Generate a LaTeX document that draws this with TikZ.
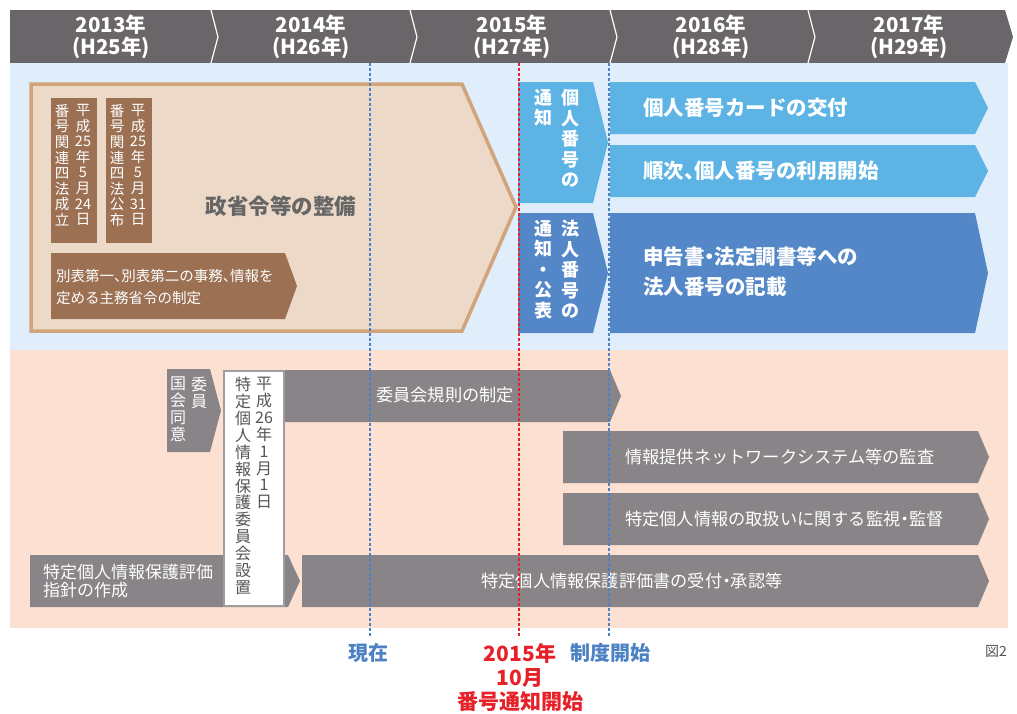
\documentclass[tikz,border=0pt]{standalone}
\usepackage{fontspec}
\setmainfont{Noto Sans CJK JP}
\definecolor{hdr}{HTML}{6A6568}
\definecolor{bandblue}{HTML}{DFEEFA}
\definecolor{bandpink}{HTML}{FCE0D2}
\definecolor{tanfill}{HTML}{EDD9C7}
\definecolor{tanborder}{HTML}{D2A47C}
\definecolor{brownbox}{HTML}{9C7153}
\definecolor{lblue}{HTML}{5DB4E4}
\definecolor{dblue}{HTML}{5487C7}
\definecolor{graybox}{HTML}{888488}
\definecolor{redlab}{HTML}{E62129}
\definecolor{bluelab}{HTML}{4C82C3}
\definecolor{darktext}{HTML}{555555}
\newcommand{\pentbox}[6]{\fill[#1] (#2,#3) -- (#4,#3) -- ({#4+#6},{(#3+#5)/2}) -- (#4,#5) -- (#2,#5) -- cycle;}
\newcommand{\hdot}{{\addfontfeature{RawFeature=+halt}・}}
\newcommand{\hcom}{{\addfontfeature{RawFeature=+halt}、}}
\tikzset{
  hdrtext/.style={text=white, font=\bfseries\fontsize{20.5}{22}\selectfont, align=center},
  vcolbrown/.style={text=white, anchor=north, align=center, font=\fontsize{14.5}{15.6}\selectfont},
  vcolblue/.style={text=white, anchor=north, align=center, font=\bfseries\fontsize{18}{20.5}\selectfont},
  vcolgray/.style={text=white, anchor=north, align=center, font=\fontsize{16}{16.8}\selectfont},
  vcolwhite/.style={text=darktext, anchor=north, align=center, font=\fontsize{16}{16.9}\selectfont},
  bluetext/.style={text=white, anchor=west, align=left, font=\bfseries\fontsize{20.5}{30}\selectfont},
  graytext/.style={text=white, font=\fontsize{17.2}{18}\selectfont},
  vline/.style={line width=1.3pt, dash pattern=on 3pt off 2pt},
  redlabel/.style={text=redlab, font=\bfseries\fontsize{21}{23}\selectfont},
  bluelabel/.style={text=bluelab, font=\bfseries\fontsize{20}{22}\selectfont}
}
\begin{document}
\begin{tikzpicture}[x=1pt,y=-1pt, every node/.style={inner sep=0pt}]
\useasboundingbox (0,0) rectangle (1017,713);
\fill[white] (0,0) rectangle (1017,713);
% header
\fill[hdr] (10,10) -- (1005,10) -- (1013,37) -- (1005,63) -- (10,63) -- cycle;
\foreach \x in {211,410,610,808}{\draw[white, line width=1.2pt] (\x,10) -- ({\x+7},37) -- (\x,63);}
\node[hdrtext] (y13) at (111,37) {2013年\\(H25年)};
\node[hdrtext] (y14) at (311,37) {2014年\\(H26年)};
\node[hdrtext] (y15) at (512,37) {2015年\\(H27年)};
\node[hdrtext] (y16) at (711,37) {2016年\\(H28年)};
\node[hdrtext] (y17) at (909,37) {2017年\\(H29年)};
% bands
\fill[bandblue] (10,63) rectangle (1008,350);
\fill[bandpink] (10,350) rectangle (1008,628);
% tan pentagon
\draw[tanborder, fill=tanfill, line width=3.5pt, line join=miter] (31,84) -- (462,84) -- (516,207) -- (462,331) -- (31,331) -- cycle;
\node[text=darktext!90!white, font=\bfseries\fontsize{21.5}{22}\selectfont] (seirei) at (281,206) {政省令等の整備};
% brown boxes
\fill[brownbox] (51,98) rectangle (97,243);
\fill[brownbox] (106,98) rectangle (152,243);
\node[vcolbrown] (b1r) at (83,104) {平\\成\\25\\年\\5\\月\\24\\日};
\node[vcolbrown] (b1l) at (62,104) {番\\号\\関\\連\\四\\法\\成\\立};
\node[vcolbrown] (b2r) at (138,104) {平\\成\\25\\年\\5\\月\\31\\日};
\node[vcolbrown] (b2l) at (117,104) {番\\号\\関\\連\\四\\法\\公\\布};
\pentbox{brownbox}{51}{253}{285}{319}{12}
\node[text=white, anchor=west, align=left, font=\fontsize{14.5}{22}\selectfont] (beppyo) at (56,287) {別表第一\hcom 別表第二の事務\hcom 情報を\\定める主務省令の制定};
% blue left boxes
\pentbox{lblue}{518}{82}{593}{203}{15}
\pentbox{dblue}{518}{213}{593}{333}{15}
\node[vcolblue] (kojin) at (570,89) {個\\人\\番\\号\\の};
\node[vcolblue] (kojin2) at (543,89) {通\\知};
\node[vcolblue] (hojin) at (570,220) {法\\人\\番\\号\\の};
\node[vcolblue] (hojin2) at (543,220) {通\\知\\・\\公\\表};
% blue right arrows
\pentbox{lblue}{610}{82}{975}{134}{13}
\pentbox{lblue}{610}{145}{975}{197}{13}
\pentbox{dblue}{610}{213}{975}{333}{13}
\node[bluetext] (card) at (643,108) {個人番号カードの交付};
\node[bluetext] (riyou) at (643,171) {順次\hcom 個人番号の利用開始};
\node[bluetext] (kisai) at (643,272) {申告書\hdot 法定調書等への\\法人番号の記載};
% gray boxes
\pentbox{graybox}{167}{369}{210}{452}{11}
\node[vcolgray] (iin1) at (199,377) {委\\員};
\node[vcolgray] (iin2) at (178,377) {国\\会\\同\\意};
\pentbox{graybox}{285}{370}{610}{422}{11}
\node[graytext] (kisoku) at (445,395) {委員会規則の制定};
\pentbox{graybox}{563}{431}{978}{483}{11}
\node[graytext, anchor=west] (kansa) at (625,457) {情報提供ネットワークシステム等の監査};
\pentbox{graybox}{563}{493}{978}{545}{11}
\node[graytext, anchor=west] (kanshi) at (625,519) {特定個人情報の取扱いに関する監視\hdot 監督};
\pentbox{graybox}{302}{555}{978}{607}{11}
\node[graytext] (uketsuke) at (632,581) {特定個人情報保護評価書の受付\hdot 承認等};
\pentbox{graybox}{30}{555}{288}{607}{12}
\node[text=white, anchor=west, align=left, font=\fontsize{17}{18}\selectfont] (shishin) at (43,581) {特定個人情報保護評価\\指針の作成};
% white box
\draw[graybox!80!white, fill=white, line width=1.5pt] (224,371) rectangle (284,606);
\node[vcolwhite] (ws1) at (264,377) {平\\成\\26\\年\\1\\月\\1\\日};
\node[vcolwhite] (ws2) at (243,377) {特\\定\\個\\人\\情\\報\\保\\護\\委\\員\\会\\設\\置};
% dashed lines
\coordinate (c1t) at (370,63); \coordinate (c1b) at (370,636);
\coordinate (c2t) at (519,63); \coordinate (c2b) at (519,638);
\coordinate (c3t) at (609,63); \coordinate (c3b) at (609,636);
\draw[vline, bluelab] (c1t) -- (c1b);
\draw[vline, redlab] (c2t) -- (c2b);
\draw[vline, bluelab] (c3t) -- (c3b);
% bottom labels
\node[bluelabel] (genzai) at (368,653) {現在};
\node[redlabel] (r1) at (520,653) {2015年};
\node[redlabel] (r2) at (520,678) {10月};
\node[redlabel] (r3) at (520,702) {番号通知開始};
\node[bluelabel] (seido) at (610,653) {制度開始};
\node[text=darktext, font=\fontsize{14}{16}\selectfont] (zu) at (996,651) {図2};
\end{tikzpicture}
\end{document}
